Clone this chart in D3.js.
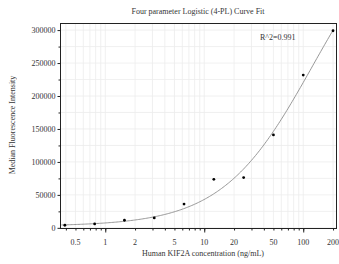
<!DOCTYPE html>
<html>
<head>
<meta charset="utf-8">
<script src="https://cdn.jsdelivr.net/npm/d3@7"></script>
<style>
body { margin: 0; background: #fff; }
text { font-family: "Liberation Serif", "Times New Roman", serif; opacity: 0.99; }
</style>
</head>
<body>
<div id="chart"></div>
<script>
// measured standards (2-fold dilutions)
var concentrations = [0.390625, 0.78125, 1.5625, 3.125, 6.25, 12.5, 25, 50, 100, 200];
var intensities = [3900, 6000, 11500, 15000, 36000, 73600, 76200, 140900, 231800, 299000];

// 4PL fit params: y = d + (a - d) / (1 + (x / c)^b)
var fitA = 2500, fitB = 0.95, fitC = 125, fitD = 490000;
var rSquared = "R^2=0.991";

var xTickLabels = [0.5, 1, 2, 5, 10, 20, 50, 100, 200];
var yTickLabels = [0, 50000, 100000, 150000, 200000, 250000, 300000];

var W = 339, H = 264;
var pLeft = 60.5, pRight = 336.5, pTop = 23.5, pBottom = 228.5;
var textColor = "#333";

var svg = d3.select("#chart").append("svg")
    .attr("width", W)
    .attr("height", H);

var x = d3.scaleLog().domain([0.353, 216.8]).range([pLeft, pRight]);
var y = d3.scaleLinear().domain([-1000, 310000]).range([pBottom, pTop]);

// minor log ticks 0.4 .. 200
var logTicks = [];
[0.1, 1, 10, 100].forEach(function(p){
    for (var k = 1; k <= 9; k++) {
        var v = +(k * p).toPrecision(3);
        if (v >= 0.4 && v <= 200) logTicks.push(v);
    }
});
var yMinor = d3.range(0, 300001, 25000);

// grid
var grid = svg.append("g").attr("stroke", "#ececec").attr("stroke-width", 0.8);
grid.selectAll("line.v").data(logTicks).enter().append("line")
    .attr("x1", function(d){ return x(d); })
    .attr("x2", function(d){ return x(d); })
    .attr("y1", pTop).attr("y2", pBottom);
grid.selectAll("line.h").data(yMinor).enter().append("line")
    .attr("y1", function(d){ return y(d); })
    .attr("y2", function(d){ return y(d); })
    .attr("x1", pLeft).attr("x2", pRight);

// fit curve
function fit(v) {
    return fitD + (fitA - fitD) / (1 + Math.pow(v / fitC, fitB));
}
var curveX = d3.range(0, 201).map(function(i){
    return Math.exp(Math.log(0.36) + i / 200 * (Math.log(200) - Math.log(0.36)));
});
svg.append("path")
    .datum(curveX)
    .attr("fill", "none")
    .attr("stroke", "#8c8c8c")
    .attr("stroke-width", 0.9)
    .attr("d", d3.line()
        .x(function(d){ return x(d); })
        .y(function(d){ return y(fit(d)); }));

// frame
svg.append("rect")
    .attr("x", pLeft).attr("y", pTop)
    .attr("width", pRight - pLeft).attr("height", pBottom - pTop)
    .attr("fill", "none")
    .attr("stroke", "#222")
    .attr("stroke-width", 1);

// y axis
var yAxis = svg.append("g")
    .attr("transform", "translate(" + pLeft + ",0)")
    .call(d3.axisLeft(y).tickValues(yTickLabels).tickSize(3).tickPadding(2).tickFormat(d3.format("d")));
yAxis.select(".domain").remove();
yAxis.selectAll("text").style("font-size", "8px").style("font-family", "Liberation Serif").attr("fill", textColor);
yAxis.selectAll("line").attr("stroke", "#222");
var yMinorAxis = svg.append("g")
    .attr("transform", "translate(" + pLeft + ",0)")
    .call(d3.axisLeft(y).tickValues(yMinor.filter(function(d){ return d % 50000 != 0; })).tickSize(2).tickFormat(""));
yMinorAxis.select(".domain").remove();
yMinorAxis.selectAll("line").attr("stroke", "#222");

// x axis
var xAxis = svg.append("g")
    .attr("transform", "translate(0," + pBottom + ")")
    .call(d3.axisBottom(x).tickValues(logTicks).tickSize(2).tickFormat(""));
xAxis.select(".domain").remove();
xAxis.selectAll("line").attr("stroke", "#222");
var xMajor = svg.append("g")
    .attr("transform", "translate(0," + pBottom + ")")
    .call(d3.axisBottom(x).tickValues([1, 10, 100]).tickSize(4).tickFormat(""));
xMajor.select(".domain").remove();
xMajor.selectAll("line").attr("stroke", "#222");
svg.append("g").selectAll("text").data(xTickLabels).enter().append("text")
    .attr("x", function(d){ return x(d); })
    .attr("y", 244.5)
    .attr("text-anchor", "middle")
    .attr("fill", textColor)
    .style("font-size", "8px")
    .text(function(d){ return d; });

// points
svg.append("g").selectAll("circle")
    .data(concentrations).enter().append("circle")
    .attr("cx", function(d){ return x(d); })
    .attr("cy", function(d, i){ return y(intensities[i]); })
    .attr("r", 1.4)
    .attr("fill", "#000");

// labels
svg.append("text")
    .attr("x", 198).attr("y", 13.5)
    .attr("text-anchor", "middle")
    .attr("fill", textColor)
    .style("font-size", "8px")
    .text("Four parameter Logistic (4-PL) Curve Fit");
svg.append("text")
    .attr("x", 260).attr("y", 40)
    .attr("fill", textColor)
    .style("font-size", "8px")
    .text(rSquared);
svg.append("text")
    .attr("x", 203).attr("y", 255.5)
    .attr("text-anchor", "middle")
    .attr("fill", textColor)
    .style("font-size", "8px")
    .text("Human KIF2A concentration (ng/mL)");
svg.append("text")
    .attr("transform", "translate(14.5,125) rotate(-90)")
    .attr("text-anchor", "middle")
    .attr("fill", textColor)
    .style("font-size", "8px")
    .text("Median Fluorescence Intensity");
</script>
</body>
</html>
